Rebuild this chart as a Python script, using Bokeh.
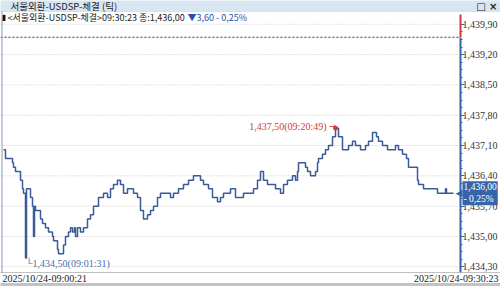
from bokeh.plotting import figure
from bokeh.models import FixedTicker, CustomJSTickFormatter, Label, BoxAnnotation, LinearAxis
from bokeh.embed import file_html
from bokeh.resources import INLINE

# ---- data (tick sequence number, traded price) ----
tick_no = [0, 2, 5, 9, 10, 12, 15, 17, 19, 20, 22, 23, 25, 27, 29, 30, 31, 32, 35, 37,
           39, 42, 45, 49, 50, 54, 55, 59, 60, 62, 65, 67, 69, 71, 72, 74, 77, 80, 84, 87,
           90, 95, 100, 104, 107, 110, 114, 117, 120, 124, 130, 134, 137, 140, 144, 147, 150, 154, 157, 167,
           170, 175, 180, 185, 190, 197, 200, 205, 209, 214, 217, 220, 227, 232, 240, 250, 254, 257, 260, 264,
           272, 277, 280, 284, 289, 292, 294, 295, 302, 304, 307, 312, 314, 315, 319, 322, 325, 329, 332, 335,
           339, 345, 349, 352, 357, 362, 365, 369, 373, 375, 379, 384, 392, 395, 399, 403, 405, 408, 414, 415,
           420, 425, 434, 442, 443, 450]
price = [1437.0, 1436.8, 1436.8, 1436.7, 1436.6, 1436.5, 1436.5, 1436.3, 1436.1, 1436.0, 1434.5, 1436.1, 1436.1, 1435.9, 1435.7, 1435.0, 1435.7, 1435.6, 1435.6, 1435.4,
         1435.3, 1435.2, 1435.1, 1435.0, 1434.9, 1434.7, 1434.6, 1434.6, 1434.8, 1435.0, 1435.1, 1435.2, 1435.1, 1435.2, 1435.0, 1435.2, 1435.1, 1435.2, 1435.4, 1435.5,
         1435.7, 1435.9, 1436.0, 1435.9, 1436.1, 1436.2, 1436.3, 1436.2, 1436.0, 1436.1, 1436.0, 1435.9, 1435.6, 1435.4, 1435.5, 1435.6, 1435.7, 1435.9, 1436.0, 1435.9,
         1436.0, 1436.1, 1436.2, 1436.3, 1436.4, 1436.3, 1436.2, 1436.1, 1435.9, 1435.8, 1435.9, 1436.0, 1436.1, 1435.9, 1436.0, 1436.1, 1436.3, 1436.5, 1436.3, 1436.2,
         1436.1, 1436.0, 1436.2, 1436.3, 1436.4, 1436.3, 1436.5, 1436.7, 1436.6, 1436.5, 1436.4, 1436.5, 1436.7, 1436.8, 1436.9, 1437.0, 1437.1, 1437.3, 1437.5, 1437.3,
         1437.0, 1437.1, 1437.2, 1437.1, 1437.0, 1437.1, 1437.2, 1437.4, 1437.3, 1437.2, 1437.1, 1437.0, 1437.1, 1437.0, 1436.9, 1436.8, 1436.6, 1436.6, 1436.3, 1436.2,
         1436.1, 1436.1, 1436.0, 1436.1, 1436.0, 1436.0]

y_ticks = [1434.3, 1435.0, 1435.7, 1436.4, 1437.1, 1437.8, 1438.5, 1439.2, 1439.9]
prev_close = 1439.60
last_price = 1436.00
change = -3.60
change_pct = -0.25
last_time = "09:30:23"
start_label = "2025/10/24-09:00:21"
end_label = "2025/10/24-09:30:23"
high_time = "09:20:49"
low_time = "09:01:31"
title_text = "서울외환-USDSP-체결 (틱)"
series_name = "서울외환-USDSP-체결"


def kfmt(v):
    return f"{v:,.2f}".replace(".", ",")


# whole canvas is the frame; plotting area is x in [-3, 457], price band [PB0, PB1]
X0, X1 = -3, 497
AXIS_X = 457
Y0, Y1 = 1433.844, 1440.449
PB0, PB1 = 1434.167, 1440.125

LINE = "#3b5b98"
BLUE = "#3565a8"
RED = "#d23a3a"
NUM_FONT = "Liberation Sans Narrow"
CJK = "Noto Sans CJK KR"

p = figure(width=500, height=286, x_range=(X0, X1), y_range=(Y0, Y1),
           x_axis_location=None, y_axis_location=None,
           toolbar_location=None, output_backend="svg",
           min_border_left=0, min_border_right=0, min_border_top=0, min_border_bottom=0)
p.outline_line_color = None
p.background_fill_color = "white"
p.border_fill_color = "white"
p.xgrid.visible = False
p.ygrid.visible = False

# dotted horizontal grid lines at the price ticks
p.segment(x0=[X0] * len(y_ticks), x1=[AXIS_X] * len(y_ticks), y0=y_ticks, y1=y_ticks,
          line_color="#c8c8c8", line_dash="1 2", line_width=1)

# previous close reference line
p.segment(x0=[X0], x1=[AXIS_X], y0=[prev_close], y1=[prev_close],
          line_color="#333333", line_dash="2 2", line_width=1)

minor = []
for a, b in zip(y_ticks[:-1], y_ticks[1:]):
    for k in range(1, 4):
        minor.append(a + (b - a) * k / 4)

ax = LinearAxis(fixed_location=AXIS_X, bounds=(PB0, prev_close))
ax.ticker = FixedTicker(ticks=y_ticks, minor_ticks=minor)
ax.formatter = CustomJSTickFormatter(code="""
const s = tick.toFixed(2).split('.');
const i = s[0];
return i.slice(0, i.length-3) + ',' + i.slice(i.length-3) + ',' + s[1];
""")
ax.axis_line_color = BLUE
ax.axis_line_width = 2
ax.major_tick_line_color = BLUE
ax.minor_tick_line_color = BLUE
ax.major_tick_out = 0
ax.major_tick_in = 4
ax.minor_tick_out = 0
ax.minor_tick_in = 2
ax.major_label_standoff = -37
ax.major_label_text_font = NUM_FONT
ax.major_label_text_font_size = "10px"
ax.major_label_text_color = "#333333"
p.add_layout(ax, "left")

# red part of the axis line above the previous close
p.add_layout(BoxAnnotation(left=AXIS_X - 1, right=AXIS_X + 1, bottom=prev_close, top=PB1,
                           fill_color=RED, fill_alpha=1, line_color=None))

p.step(tick_no, price, mode="after", line_color=LINE, line_width=1.5)

hi = max(price)
lo = min(price)
hi_x = tick_no[price.index(hi)]
lo_x = tick_no[price.index(lo)]
p.scatter([hi_x], [hi], size=4, color=RED)

p.add_layout(Label(x=hi_x, y=hi, text=f"{kfmt(hi)}({high_time})", text_align="right",
                   text_baseline="middle", x_offset=-9, y_offset=2,
                   text_font=NUM_FONT, text_font_size="10px", text_color=RED))
p.add_layout(Label(x=hi_x, y=hi, text="→", text_align="right",
                   text_baseline="middle", x_offset=1, y_offset=2,
                   text_font="DejaVu Sans", text_font_size="9px", text_color=RED))
p.add_layout(Label(x=lo_x, y=lo, text=f"└{kfmt(lo)}({low_time})", text_align="left",
                   text_baseline="middle", x_offset=0, y_offset=-5,
                   text_font=NUM_FONT, text_font_size="10px", text_color="#4a6fa8"))

# header bar
p.add_layout(BoxAnnotation(left=-1, right=501, bottom=275, top=287,
                           left_units="screen", right_units="screen",
                           bottom_units="screen", top_units="screen",
                           fill_color="#d8e6f2", fill_alpha=1, line_color="#a8b8c8"))
p.add_layout(Label(x=10, y=280.5, x_units="screen", y_units="screen", text=title_text,
                   text_baseline="middle", text_font=CJK, text_font_size="9.5px",
                   text_color="#222222"))
p.add_layout(Label(x=497, y=280.5, x_units="screen", y_units="screen", text="□ ×",
                   text_align="right", text_baseline="middle", text_font="DejaVu Sans",
                   text_font_size="10px", text_font_style="bold", text_color="#222222"))

# info line
p.add_layout(Label(x=1, y=269, x_units="screen", y_units="screen", text="▮",
                   text_baseline="middle", text_font="DejaVu Sans",
                   text_font_size="8px", text_color="#111111"))
p.add_layout(Label(x=7, y=269, x_units="screen", y_units="screen",
                   text=f"<{series_name}>{last_time} 종:{kfmt(last_price)}",
                   text_baseline="middle", text_font=CJK, text_font_size="9px",
                   text_color="#222222"))
p.add_layout(Label(x=187, y=269, x_units="screen", y_units="screen",
                   text=f"▼{kfmt(abs(change))}  - {kfmt(abs(change_pct))}%",
                   text_baseline="middle", text_font=CJK, text_font_size="9px",
                   text_color="#2a52a8"))

# left border
p.add_layout(BoxAnnotation(left=1, right=2, bottom=3, top=275,
                           left_units="screen", right_units="screen",
                           bottom_units="screen", top_units="screen",
                           fill_color="#8a9ab5", fill_alpha=1, line_color=None))

# current price tag
p.add_layout(Label(x=455, y=last_price, x_units="screen", y_units="data", text="◀",
                   text_baseline="middle", text_font="DejaVu Sans",
                   text_font_size="9px", text_color=BLUE))
p.add_layout(Label(x=462, y=last_price, x_units="screen", y_units="data",
                   text=f"{kfmt(last_price)}\n- {kfmt(abs(change_pct))}%",
                   text_baseline="middle", text_align="left", text_font=NUM_FONT,
                   text_font_size="9.5px", text_color="white",
                   background_fill_color=BLUE, background_fill_alpha=1, padding=1))

# bottom date box
p.add_layout(BoxAnnotation(left=-1, right=501, bottom=3, top=14,
                           left_units="screen", right_units="screen",
                           bottom_units="screen", top_units="screen",
                           fill_color="white", fill_alpha=1, line_color="#333333"))
p.add_layout(BoxAnnotation(left=-1, right=501, bottom=-1, top=3,
                           left_units="screen", right_units="screen",
                           bottom_units="screen", top_units="screen",
                           fill_color="#c4c4c4", fill_alpha=1, line_color=None))
p.add_layout(Label(x=2, y=8.5, x_units="screen", y_units="screen", text=start_label,
                   text_baseline="middle", text_font=NUM_FONT, text_font_size="10px",
                   text_color="#222222"))
p.add_layout(Label(x=498, y=8.5, x_units="screen", y_units="screen", text=end_label,
                   text_align="right", text_baseline="middle", text_font=NUM_FONT,
                   text_font_size="10px", text_color="#222222"))

open("out.html", "w").write(file_html(p, INLINE))
